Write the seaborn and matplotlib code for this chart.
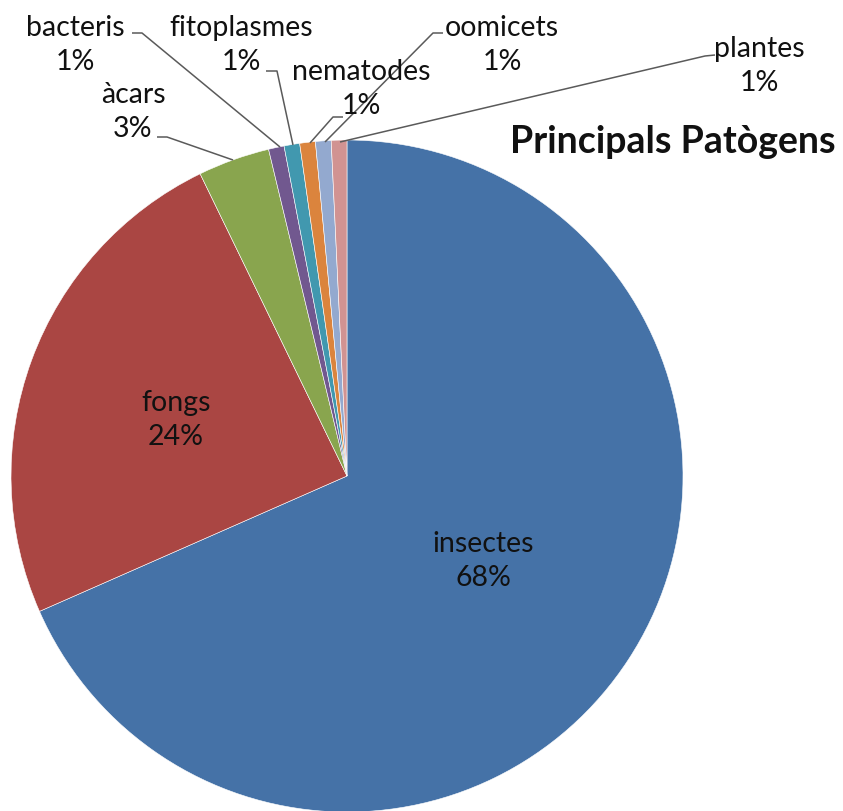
import matplotlib
matplotlib.use("Agg")
import matplotlib.pyplot as plt
import seaborn as sns

sns.set_theme(style="white")
plt.rcParams["font.family"] = ["Lato", "DejaVu Sans"]

# Share of records per pathogen group (%)
categories = ["insectes", "fongs", "àcars", "bacteris", "fitoplasmes",
              "nematodes", "oomicets", "plantes"]
shares = [68.4, 24.4, 3.45, 0.75, 0.75, 0.75, 0.75, 0.75]
colors = ["#4572A7", "#AA4643", "#89A54E", "#71588F", "#4198AF",
          "#DB843D", "#93A9CF", "#D19392"]

W, H = 843, 811
fig = plt.figure(figsize=(W / 100, H / 100), dpi=100)
ax = fig.add_axes([0, 0, 1, 1])


def Y(y):
    return H - y


cx, cy, r = 347, 476, 336
ax.pie(shares, colors=colors, startangle=90, counterclock=False,
       center=(cx, Y(cy)), radius=r, frame=True,
       wedgeprops=dict(linewidth=0.4, edgecolor="white"))
ax.set_xlim(0, W)
ax.set_ylim(0, H)
ax.axis("off")

labels = [f"{c}\n{round(v):.0f}%" for c, v in zip(categories, shares)]

txt_kw = dict(ha="center", va="center", fontsize=20.5, color="#111111",
              linespacing=1.35)
# label anchor positions (pixel space, y from top)
label_pos = [(483, 561), (176, 420), (133, 112), (75, 45), (241, 45),
             (361, 89), (502, 45), (759, 66)]
for lab, (x, y) in zip(labels, label_pos):
    ax.text(x, Y(y), lab, **txt_kw)

# leader lines for the thin slices
leaders = [
    [(233, 160), (167, 137), (157, 137)],
    [(280, 147), (142, 33), (132, 33)],
    [(293, 145), (277, 71), (266, 71)],
    [(310, 143), (333, 117), (343, 117)],
    [(325, 142), (433, 33), (443, 33)],
    [(340, 142), (705, 56), (715, 55)],
]
for pts in leaders:
    xs = [p[0] for p in pts]
    ys = [Y(p[1]) for p in pts]
    ax.plot(xs, ys, color="#5a5a5a", lw=1.1, solid_capstyle="butt")

ax.text(673, Y(142), "Principals Patògens", ha="center", va="center",
        fontsize=27, fontweight="bold", color="#111111")

fig.savefig("out.png", dpi=100, facecolor="white")
